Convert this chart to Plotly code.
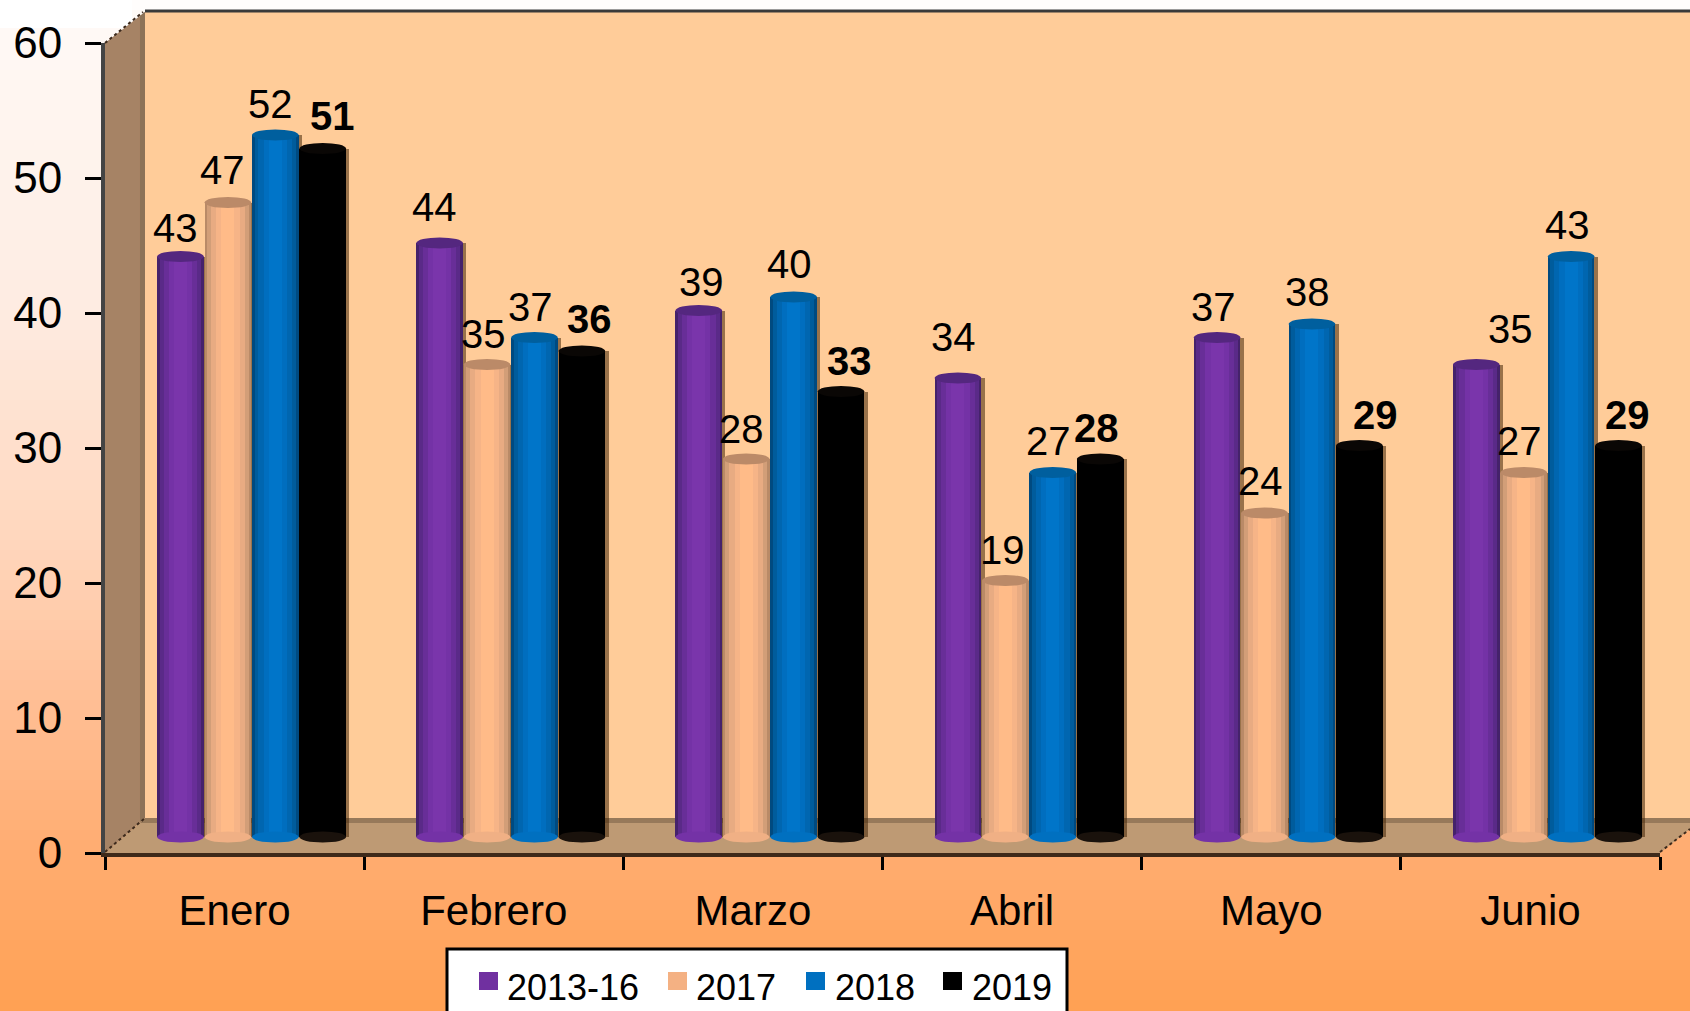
import plotly.graph_objects as go

W, H = 1690, 1011
months = ["Enero", "Febrero", "Marzo", "Abril", "Mayo", "Junio"]
s2013 = [43, 44, 39, 34, 37, 35]
s2017 = [47, 35, 28, 19, 24, 27]
s2018 = [52, 37, 40, 27, 38, 43]
s2019 = [51, 36, 33, 28, 29, 29]
names = ["2013-16", "2017", "2018", "2019"]
series = [s2013, s2017, s2018, s2019]

# per-label nudges (pixels)
lab_dx = [[-5, -5, 3, -4, -4, 34], [-5, -4, -5, -3, -4, -4], [-5, -4, -4, -4, -4, -4], [10, 8, 8, -4, 16, 9]]
lab_dy = [[29, 36, 29, 41, 31, 36], [33, 31, 30, 31, 32, 32], [31, 31, 33, 32, 32, 32], [33, 32, 31, 31, 31, 31]]
legend_swatch_px = [479, 668, 806, 943]
legend_text_px = [507, 696, 835, 972]

ramps = [
    ["#45226b", "#5a2a88", "#682e98", "#7432a6", "#7a35ab"],
    ["#b98a67", "#d29e78", "#e8ab82", "#f6b487", "#ffbb88"],
    ["#004a80", "#005c9c", "#0066b0", "#006ebf", "#0075c9"],
    ["#000000", "#000000", "#000000", "#000000", "#000000"],
]
swatch = ["#7030A0", "#F4B183", "#0070C0", "#000000"]
tops = ["#54277f", "#bb8a68", "#005f9e", "#0a0705"]
bottoms = ["#7432a6", "#f0b085", "#0070c0", "#1a120c"]

PITCH = 0.183
WIDTHS = [0.180, 0.160, 0.130, 0.090, 0.050]
fig = go.Figure()

for i, vals in enumerate(series):
    c = (i - 1.5) * PITCH
    fig.add_bar(x=months, y=vals, width=0.180, offset=c - 0.09 + 0.013, xaxis="x2", yaxis="y2",
                marker=dict(color="rgba(70,40,10,0.55)", line_width=0), showlegend=False, hoverinfo="skip")
    for w, col in zip(WIDTHS, ramps[i]):
        fig.add_bar(x=months, y=vals, width=w, offset=c - w / 2, xaxis="x2", yaxis="y2",
                    marker=dict(color=col, line_width=0), showlegend=False, hoverinfo="skip")

# category carrier on the front axes
fig.add_scatter(x=months, y=[None] * 6, mode="markers", xaxis="x", yaxis="y", showlegend=False, hoverinfo="skip")

# ---- chrome ----
shapes = []
def paper_path(points, fill, layer="below"):
    d = "M" + " L".join(f"{x/W:.5f},{1-y/H:.5f}" for x, y in points) + " Z"
    return dict(type="path", xref="paper", yref="paper", path=d, fillcolor=fill, layer=layer, line=dict(width=0))

def lerp(a, b, t):
    return tuple(round(a[k] + (b[k] - a[k]) * t) for k in range(3))

stops = [(0, (255, 250, 247)), (300, (254, 236, 226)), (540, (255, 214, 188)), (700, (255, 190, 148)),
         (850, (255, 172, 112)), (1011, (255, 160, 82))]
STEP = 10
for y in range(0, H, STEP):
    for (y0, c0), (y1, c1) in zip(stops, stops[1:]):
        if y0 <= y <= y1:
            c = lerp(c0, c1, (y - y0) / (y1 - y0))
            break
    shapes.append(paper_path([(0, y), (W, y), (W, y + STEP + 1), (0, y + STEP + 1)], f"rgb{c}"))

shapes.append(paper_path([(0, 0), (132, 0), (132, 28), (0, 28)], "#ffffff"))
shapes.append(paper_path([(132, 0), (W, 0), (W, 10), (132, 10)], "#fffdfc"))
# back wall
shapes.append(paper_path([(145, 12), (W, 12), (W, 825), (145, 825)], "#FFCC99"))
# side wall
shapes.append(paper_path([(105, 43), (145, 12), (145, 818), (105, 853)], "#A68365"))
shapes.append(paper_path([(140, 16), (145, 12), (145, 818), (140, 822)], "#8d7358"))
# floor
shapes.append(paper_path([(105, 853), (145, 818), (W, 818), (W, 829), (1660, 853)], "#BE9A74"))
shapes.append(paper_path([(145, 818), (W, 818), (W, 823), (140, 823)], "#97795a"))
# edges
for pts in ([(145, 11), (W, 11)], [(105, 43), (143, 12)], [(105, 852), (145, 818)], [(1660, 852), (W, 829)]):
    d = "M" + " L".join(f"{x/W:.5f},{1-y/H:.5f}" for x, y in pts)
    top = pts[0][1] == 11
    shapes.append(dict(type="path", xref="paper", yref="paper", path=d, layer="below",
                       line=dict(color="#3a3a3a" if top else "#3d2a1c", width=3 if top else 2,
                                 dash="solid" if top else "dot")))

# cylinder caps
RX = 0.090
RY = 0.41
for i, vals in enumerate(series):
    c = (i - 1.5) * PITCH
    for k, v in enumerate(vals):
        shapes.append(dict(type="circle", xref="x2", yref="y2", layer="above",
                           x0=k + c - RX, x1=k + c + RX, y0=-RY, y1=RY, fillcolor=bottoms[i], line_width=0))
        shapes.append(dict(type="circle", xref="x2", yref="y2", layer="above",
                           x0=k + c - RX, x1=k + c + RX, y0=v - RY, y1=v + RY, fillcolor=tops[i], line_width=0))

# legend box
shapes.append(dict(type="rect", xref="paper", yref="paper", layer="above",
                   x0=447 / W, x1=1067 / W, y0=-0.02, y1=1 - 949 / H,
                   fillcolor="#ffffff", line=dict(color="#000000", width=3)))

annotations = []
for i, vals in enumerate(series):
    c = (i - 1.5) * PITCH
    for k, v in enumerate(vals):
        annotations.append(dict(
            x=k + c, y=v, xref="x2", yref="y2", text=f"<b>{v}</b>" if i == 3 else str(v), showarrow=False,
            xshift=lab_dx[i][k], yshift=lab_dy[i][k], xanchor="center", yanchor="middle",
            font=dict(family="Liberation Sans", size=40, color="#000000")))

# legend entries
for n, col, sx, tx in zip(names, swatch, legend_swatch_px, legend_text_px):
    shapes.append(paper_path([(sx, 972), (sx + 19, 972), (sx + 19, 990), (sx, 990)], col, layer="above"))
    annotations.append(dict(x=tx / W, y=1 - 987 / H, xref="paper", yref="paper", text=n, showarrow=False,
                            xanchor="left", yanchor="middle", xshift=-2,
                            font=dict(family="Liberation Sans", size=36, color="#000000")))

fig.update_layout(
    template="none",
    width=W, height=H, autosize=False, margin=dict(l=0, r=0, t=0, b=0, pad=0),
    paper_bgcolor="#ffffff", plot_bgcolor="rgba(0,0,0,0)", barmode="overlay", bargap=0,
    font=dict(family="Liberation Sans", color="#000000"),
    shapes=shapes, annotations=annotations, showlegend=False,
    xaxis=dict(domain=[105 / W, 1660 / W], range=[-0.5, 5.5], type="category", categoryorder="array",
               categoryarray=months, tickson="boundaries", ticks="outside", ticklen=13, tickwidth=3,
               tickcolor="#000000", showline=True, linecolor="#3f2a1a", linewidth=4, showgrid=False,
               zeroline=False, tickfont=dict(size=42, family="Liberation Sans"), ticklabelstandoff=18,
               anchor="y", fixedrange=True, automargin=False),
    yaxis=dict(domain=[1 - 853 / H, 1 - 43 / H], range=[0, 60], tickvals=[0, 10, 20, 30, 40, 50, 60],
               ticks="outside", ticklen=16, tickwidth=3, tickcolor="#000000", showline=True,
               linecolor="#444444", linewidth=4, showgrid=False, zeroline=False,
               tickfont=dict(size=44, family="Liberation Sans"), ticklabelstandoff=14, anchor="x", fixedrange=True,
               automargin=False),
    xaxis2=dict(domain=[122 / W, 1677 / W], range=[-0.5, 5.5], type="category", categoryorder="array",
                categoryarray=months, visible=False, anchor="y2", automargin=False, fixedrange=True),
    yaxis2=dict(domain=[1 - 850.5 / H, 1 - 27 / H], range=[-1, 60], visible=False, anchor="x2",
                automargin=False, fixedrange=True),
)

fig.write_html("out.html", config={"displayModeBar": False},
               post_script="document.body.style.margin='0';document.documentElement.style.overflow='hidden';")
